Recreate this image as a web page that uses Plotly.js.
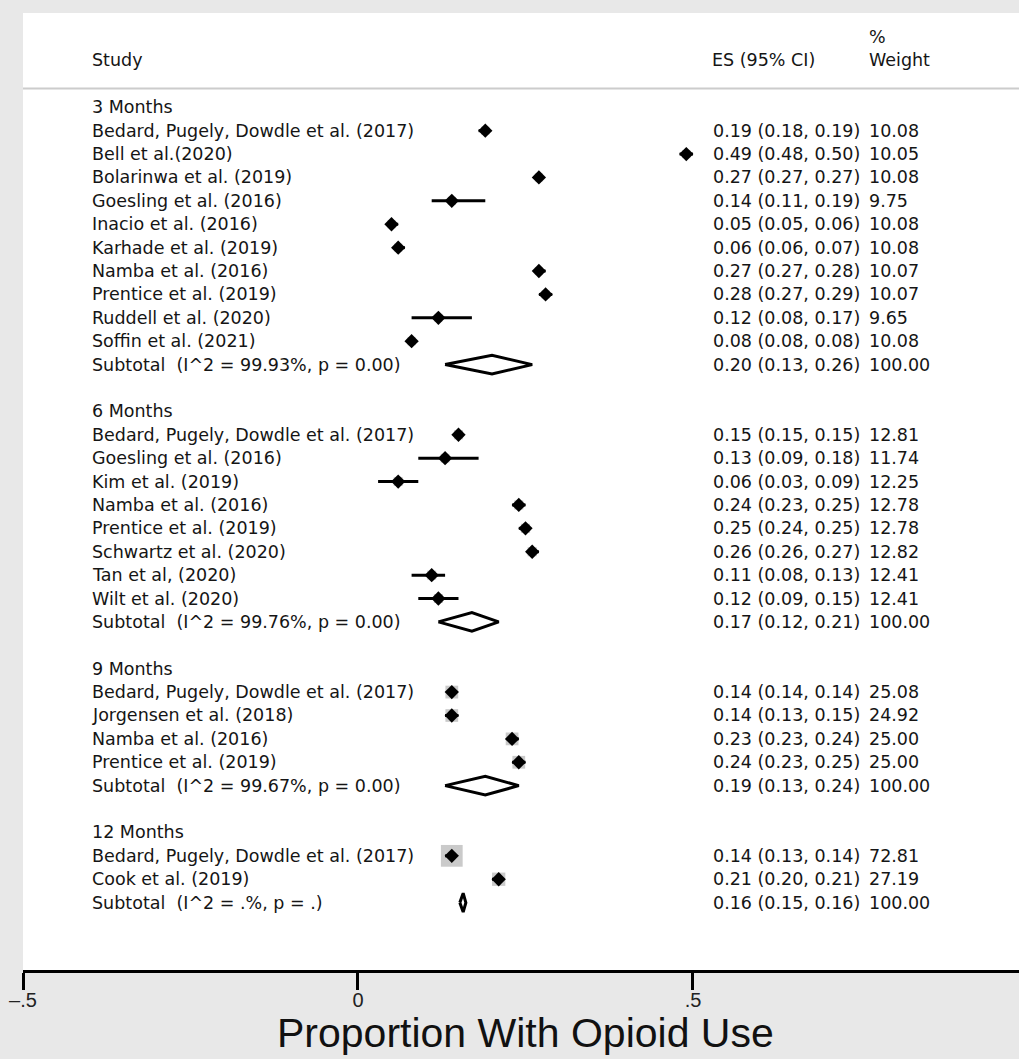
<!DOCTYPE html>
<html><head><meta charset="utf-8">
<script src="https://cdn.plot.ly/plotly-3.0.1.min.js"></script>
<style>html,body{margin:0;padding:0;background:#e8e8e8}</style>
</head><body><div id="chart" style="width:1019px;height:1059px"></div>
<script>
// ---------- DATA ----------
const groupLabels = ["3 Months", "6 Months", "9 Months", "12 Months"];

const names3 = ["Bedard, Pugely, Dowdle et al. (2017)", "Bell et al.(2020)", "Bolarinwa et al. (2019)",
  "Goesling et al. (2016)", "Inacio et al. (2016)", "Karhade et al. (2019)", "Namba et al. (2016)",
  "Prentice et al. (2019)", "Ruddell et al. (2020)", "Soffin et al. (2021)"];
const es3 = [0.19, 0.49, 0.27, 0.14, 0.05, 0.06, 0.27, 0.28, 0.12, 0.08];
const lo3 = [0.18, 0.48, 0.27, 0.11, 0.05, 0.06, 0.27, 0.27, 0.08, 0.08];
const hi3 = [0.19, 0.50, 0.27, 0.19, 0.06, 0.07, 0.28, 0.29, 0.17, 0.08];
const wt3 = [10.08, 10.05, 10.08, 9.75, 10.08, 10.08, 10.07, 10.07, 9.65, 10.08];

const names6 = ["Bedard, Pugely, Dowdle et al. (2017)", "Goesling et al. (2016)", "Kim et al. (2019)",
  "Namba et al. (2016)", "Prentice et al. (2019)", "Schwartz et al. (2020)", "Tan et al, (2020)", "Wilt et al. (2020)"];
const es6 = [0.15, 0.13, 0.06, 0.24, 0.25, 0.26, 0.11, 0.12];
const lo6 = [0.15, 0.09, 0.03, 0.23, 0.24, 0.26, 0.08, 0.09];
const hi6 = [0.15, 0.18, 0.09, 0.25, 0.25, 0.27, 0.13, 0.15];
const wt6 = [12.81, 11.74, 12.25, 12.78, 12.78, 12.82, 12.41, 12.41];

const names9 = ["Bedard, Pugely, Dowdle et al. (2017)", "Jorgensen et al. (2018)", "Namba et al. (2016)", "Prentice et al. (2019)"];
const es9 = [0.14, 0.14, 0.23, 0.24];
const lo9 = [0.14, 0.13, 0.23, 0.23];
const hi9 = [0.14, 0.15, 0.24, 0.25];
const wt9 = [25.08, 24.92, 25.00, 25.00];

const names12 = ["Bedard, Pugely, Dowdle et al. (2017)", "Cook et al. (2019)"];
const es12 = [0.14, 0.21];
const lo12 = [0.13, 0.20];
const hi12 = [0.14, 0.21];
const wt12 = [72.81, 27.19];

const subLabels = ["Subtotal\u00a0 (I^2 = 99.93%, p = 0.00)", "Subtotal\u00a0 (I^2 = 99.76%, p = 0.00)",
  "Subtotal\u00a0 (I^2 = 99.67%, p = 0.00)", "Subtotal\u00a0 (I^2 = .%, p = .)"];
const subES = [0.20, 0.17, 0.19, 0.157];
const subLo = [0.13, 0.12, 0.13, 0.152];
const subHi = [0.26, 0.21, 0.24, 0.161];
const subWt = [100, 100, 100, 100];

const headerStudy = "Study";
const headerES = "ES (95% CI)";
const headerPct = "%";
const headerWeight = "Weight";
const axisTitle = "Proportion With Opioid Use";
const tickVals = [-0.5, 0, 0.5];
const tickText = ["\u2013.5", "0", ".5"];

// ---------- BUILD ----------
const groups = [
  {names: names3, es: es3, lo: lo3, hi: hi3, wt: wt3},
  {names: names6, es: es6, lo: lo6, hi: hi6, wt: wt6},
  {names: names9, es: es9, lo: lo9, hi: hi9, wt: wt9},
  {names: names12, es: es12, lo: lo12, hi: hi12, wt: wt12}
];

const TXT = {family: "DejaVu Sans", size: 17.5, color: "#151515"};
const xStudy = -0.3985, xES = 0.529, xWt = 0.7605;

const ann = [];
function addText(x, y, t, font) {
  ann.push({x: x, y: y, xref: "x", yref: "y", text: t, showarrow: false,
    xanchor: "left", yanchor: "middle", font: font || TXT, borderpad: 0});
}
const fmt = v => v.toFixed(2);

const boxX = [], boxY = [], boxS = [];
const ciX = [], ciY = [];
const ptX = [], ptY = [];
const dX = [], dY = [];

let r = 0;
groups.forEach((g, gi) => {
  addText(xStudy, r, groupLabels[gi]);
  r++;
  g.names.forEach((n, i) => {
    addText(xStudy, r, n);
    addText(xES, r, fmt(g.es[i]) + " (" + fmt(g.lo[i]) + ", " + fmt(g.hi[i]) + ")");
    addText(xWt, r, fmt(g.wt[i]));
    boxX.push(g.es[i]); boxY.push(r); boxS.push(2.55 * Math.sqrt(g.wt[i]));
    ciX.push(g.lo[i], g.hi[i], null); ciY.push(r, r, null);
    ptX.push(g.es[i]); ptY.push(r);
    r++;
  });
  addText(xStudy, r, subLabels[gi]);
  addText(xES, r, fmt(subES[gi]) + " (" + fmt(subLo[gi]) + ", " + fmt(subHi[gi]) + ")");
  addText(xWt, r, fmt(subWt[gi]));
  const h = 0.4;
  dX.push(subLo[gi], subES[gi], subHi[gi], subES[gi], subLo[gi], null);
  dY.push(r, r - h, r, r + h, r, null);
  r += 2;
});

addText(xStudy, -2, headerStudy);
addText(xES - 0.002, -2, headerES);
addText(xWt, -3, headerPct);
addText(xWt, -2, headerWeight);

ann.push({x: 0.25, y: -0.0395, xref: "x", yref: "paper", text: axisTitle, showarrow: false,
  xanchor: "center", yanchor: "top", font: {family: "Liberation Sans", size: 41, color: "#111"}});

const traces = [
  {type: "scatter", mode: "markers", x: boxX, y: boxY, hoverinfo: "skip",
   marker: {symbol: "square", size: boxS, color: "#b4b4b4", line: {width: 0}}},
  {type: "scatter", mode: "lines", x: ciX, y: ciY, hoverinfo: "skip",
   line: {color: "#000", width: 3}},
  {type: "scatter", mode: "markers", x: ptX, y: ptY, hoverinfo: "skip",
   marker: {symbol: "diamond", size: 11, color: "#000", line: {width: 0}}},
  {type: "scatter", mode: "lines", x: dX, y: dY, hoverinfo: "skip",
   line: {color: "#000", width: 3}}
];

const layout = {
  width: 1019, height: 1059,
  margin: {l: 23, r: 0, t: 13, b: 89, pad: 0},
  paper_bgcolor: "#e8e8e8", plot_bgcolor: "#ffffff",
  showlegend: false,
  xaxis: {range: [-0.5, 0.9866], showgrid: false, zeroline: false, showline: true,
    linecolor: "#000", linewidth: 3, ticks: "outside", ticklen: 17, tickwidth: 3, tickcolor: "#000",
    tickmode: "array", tickvals: tickVals, ticktext: tickText, ticklabelstandoff: -7,
    tickfont: {family: "Liberation Sans", size: 20, color: "#222"}, fixedrange: true},
  yaxis: {range: [36.88, -4.03], visible: false, showgrid: false, zeroline: false, fixedrange: true},
  shapes: [
    {type: "line", xref: "paper", yref: "y", x0: 0, x1: 1, y0: -0.8, y1: -0.8,
     line: {color: "#cccccc", width: 2}}
  ],
  annotations: ann
};

Plotly.newPlot("chart", traces, layout, {staticPlot: true, displayModeBar: false});
</script></body></html>
